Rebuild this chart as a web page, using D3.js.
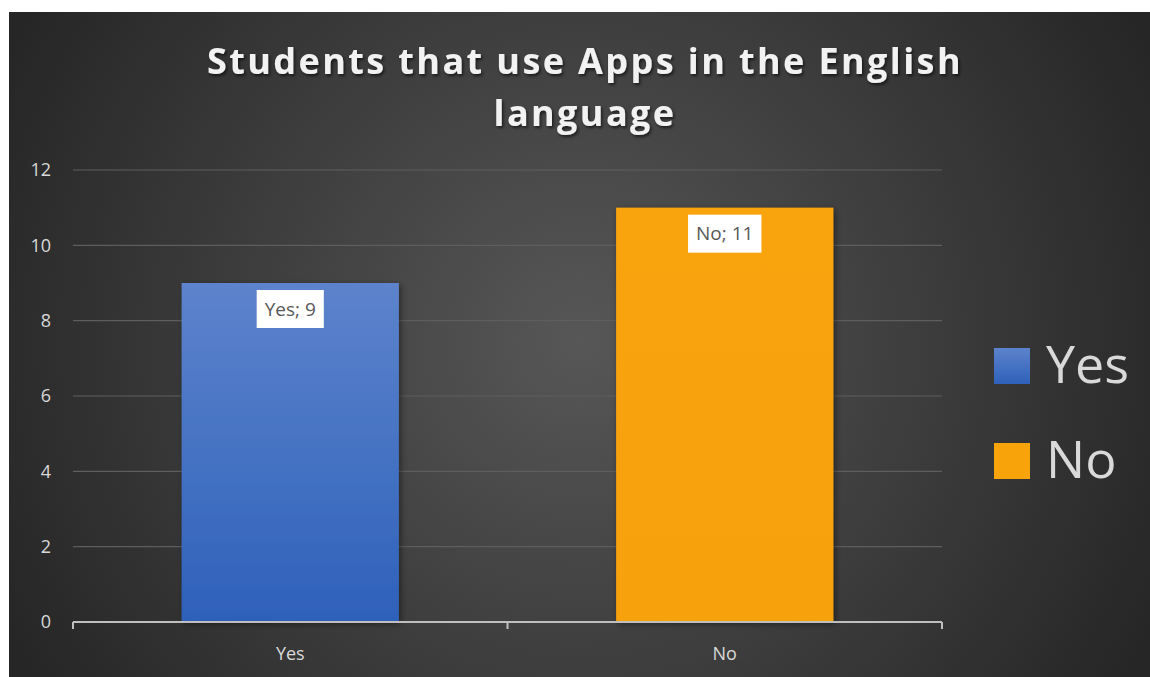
<!DOCTYPE html>
<html>
<head>
<meta charset="utf-8">
<script src="https://cdn.jsdelivr.net/npm/d3@7"></script>
<style>
  html, body { margin: 0; padding: 0; background: #ffffff; }
  svg { display: block; }
</style>
</head>
<body>
<svg id="chart" width="1150" height="677"></svg>
<script>
// Survey answers: students that use apps in the English language
const categories = ["Yes", "No"];
const values = [9, 11];
const yTicks = [0, 2, 4, 6, 8, 10, 12];
const titleLines = ["Students that use Apps in the English", "language"];

const W = 1150, H = 677;
const svg = d3.select("#chart");
const defs = svg.append("defs");

// dark radial backdrop
const bg = defs.append("radialGradient").attr("id", "bgGrad")
  .attr("gradientUnits", "userSpaceOnUse")
  .attr("cx", 580).attr("cy", 340).attr("r", 640);
bg.append("stop").attr("offset", "0%").attr("stop-color", "#575757");
bg.append("stop").attr("offset", "100%").attr("stop-color", "#262626");

const blueGrad = defs.append("linearGradient").attr("id", "blueGrad")
  .attr("x1", 0).attr("y1", 0).attr("x2", 0).attr("y2", 1);
blueGrad.append("stop").attr("offset", "0%").attr("stop-color", "#5d83cc");
blueGrad.append("stop").attr("offset", "100%").attr("stop-color", "#2e61ba");

const orangeGrad = defs.append("linearGradient").attr("id", "orangeGrad")
  .attr("x1", 0).attr("y1", 0).attr("x2", 0).attr("y2", 1);
orangeGrad.append("stop").attr("offset", "0%").attr("stop-color", "#f9a40b");
orangeGrad.append("stop").attr("offset", "100%").attr("stop-color", "#f7a109");

const shadow = defs.append("filter").attr("id", "barShadow")
  .attr("x", "-10%").attr("y", "-10%").attr("width", "130%").attr("height", "130%");
shadow.append("feDropShadow").attr("dx", 2).attr("dy", 2).attr("stdDeviation", 3)
  .attr("flood-color", "#000").attr("flood-opacity", 0.45);

const tshadow = defs.append("filter").attr("id", "titleShadow")
  .attr("x", "-5%").attr("y", "-20%").attr("width", "110%").attr("height", "150%");
tshadow.append("feDropShadow").attr("dx", 1.5).attr("dy", 2).attr("stdDeviation", 1.5)
  .attr("flood-color", "#000").attr("flood-opacity", 0.6);

const fills = { "Yes": "url(#blueGrad)", "No": "url(#orangeGrad)" };
const swatch = { "Yes": "url(#blueGrad)", "No": "#f9a30a" };

svg.append("rect").attr("x", 9).attr("y", 12).attr("width", W - 9).attr("height", H - 12)
  .attr("fill", "url(#bgGrad)");

// title
svg.append("g").attr("filter", "url(#titleShadow)")
  .selectAll("text").data(titleLines).join("text")
  .attr("x", 585).attr("y", (d, i) => 74 + i * 52)
  .attr("text-anchor", "middle")
  .attr("font-family", "'Open Sans', sans-serif")
  .attr("font-weight", 700)
  .attr("font-size", 36)
  .attr("letter-spacing", 2.4)
  .attr("fill", "#f2f2f2")
  .text(d => d);

const plot = { left: 73, right: 942, top: 170, bottom: 622 };

const x = d3.scaleBand().domain(categories).range([plot.left, plot.right])
  .paddingInner(0.5).paddingOuter(0.25);
const y = d3.scaleLinear().domain([0, 12]).range([plot.bottom, plot.top]);

// gridlines
svg.append("g").selectAll("line").data(yTicks.filter(t => t > 0)).join("line")
  .attr("x1", plot.left).attr("x2", plot.right)
  .attr("y1", d => y(d)).attr("y2", d => y(d))
  .attr("stroke", "#5e5e5e").attr("stroke-width", 1.2);

// y axis labels
const yAxis = svg.append("g").attr("transform", `translate(${plot.left - 22},0)`)
  .call(d3.axisLeft(y).tickValues(yTicks).tickSize(0).tickPadding(0));
yAxis.select(".domain").remove();
yAxis.selectAll("text")
  .attr("font-family", "'Open Sans', sans-serif").attr("font-size", 18)
  .attr("fill", "#d9d9d9");

// bars
svg.append("g").selectAll("rect").data(categories).join("rect")
  .attr("x", d => x(d)).attr("width", x.bandwidth())
  .attr("y", (d, i) => y(values[i]))
  .attr("height", (d, i) => y(0) - y(values[i]))
  .attr("fill", d => fills[d])
  .attr("filter", "url(#barShadow)");

// x axis
const xAxis = svg.append("g").attr("transform", `translate(0,${plot.bottom})`)
  .call(d3.axisBottom(x).tickSize(0).tickPadding(25));
xAxis.select(".domain").remove();
xAxis.selectAll("text")
  .attr("font-family", "'Open Sans', sans-serif").attr("font-size", 18)
  .attr("fill", "#d9d9d9");
svg.append("line").attr("x1", plot.left).attr("x2", plot.right)
  .attr("y1", plot.bottom).attr("y2", plot.bottom)
  .attr("stroke", "#bfbfbf").attr("stroke-width", 2);
const boundaries = [plot.left, (plot.left + plot.right) / 2, plot.right];
svg.append("g").selectAll("line").data(boundaries).join("line")
  .attr("x1", d => d).attr("x2", d => d)
  .attr("y1", plot.bottom).attr("y2", plot.bottom + 7)
  .attr("stroke", "#bfbfbf").attr("stroke-width", 2);

// data labels
const labels = svg.append("g").selectAll("g").data(categories).join("g")
  .attr("transform", (d, i) => `translate(${x(d) + x.bandwidth() / 2},${y(values[i]) + 26})`);
const lt = labels.append("text")
  .attr("text-anchor", "middle").attr("dy", "0.35em")
  .attr("font-family", "'Open Sans', sans-serif").attr("font-size", 19)
  .attr("fill", "#595959")
  .text((d, i) => `${d}; ${values[i]}`);
lt.each(function () {
  const b = this.getBBox();
  d3.select(this.parentNode).insert("rect", "text")
    .attr("x", b.x - 8).attr("y", -19).attr("width", b.width + 16).attr("height", 38)
    .attr("fill", "#ffffff");
});

// legend
const legend = svg.append("g").selectAll("g").data(categories).join("g")
  .attr("transform", (d, i) => `translate(994,${348 + i * 95})`);
legend.append("rect").attr("width", 36).attr("height", 36).attr("fill", d => swatch[d]);
legend.append("text").attr("x", 52).attr("y", 35)
  .attr("font-family", "'Open Sans', sans-serif").attr("font-size", 52)
  .attr("fill", "#d9d9d9").text(d => d);
</script>
</body>
</html>
